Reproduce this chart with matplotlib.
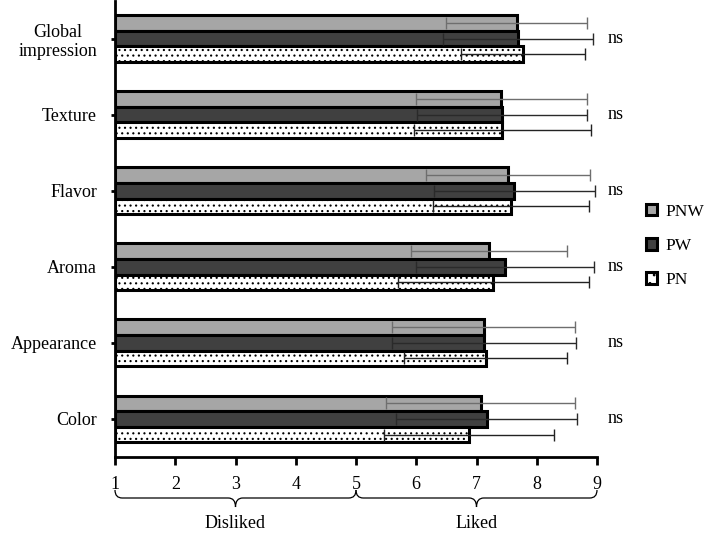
import matplotlib
matplotlib.use('Agg')
import matplotlib.pyplot as plt
import numpy as np
from matplotlib.patches import Patch, PathPatch
from matplotlib.path import Path
from matplotlib.transforms import blended_transform_factory

plt.rcParams['font.family'] = ['Liberation Serif', 'DejaVu Serif']
plt.rcParams['font.size'] = 13
plt.rcParams['hatch.linewidth'] = 0.8

# attributes, top to bottom as shown
categories = ['Global\nimpression', 'Texture', 'Flavor', 'Aroma', 'Appearance', 'Color']
series = ['PNW', 'PW', 'PN']

pnw_mean = [7.67, 7.41, 7.52, 7.21, 7.12, 7.07]
pnw_sd = [1.17, 1.42, 1.36, 1.30, 1.52, 1.57]
pw_mean = [7.69, 7.43, 7.63, 7.47, 7.12, 7.17]
pw_sd = [1.25, 1.41, 1.33, 1.48, 1.53, 1.50]
pn_mean = [7.77, 7.43, 7.57, 7.28, 7.15, 6.88]
pn_sd = [1.03, 1.47, 1.30, 1.59, 1.35, 1.41]

signif = ['ns', 'ns', 'ns', 'ns', 'ns', 'ns']
xticks = [1, 2, 3, 4, 5, 6, 7, 8, 9]
scale_groups = [(1, 5, 'Disliked'), (5, 9, 'Liked')]

fig = plt.figure(figsize=(7.09, 5.35), dpi=100)
ax = fig.add_axes([115 / 709, 1 - 457 / 535, 482 / 709, 457 / 535 - 0.001])

n = len(categories)
ypos = np.arange(n)[::-1]  # first category on top
h = 0.205
styles = [
    dict(color='#a6a6a6', hatch=None, ecol='#6e6e6e'),
    dict(color='#404040', hatch=None, ecol='#2a2a2a'),
    dict(color='white', hatch='...', ecol='#222222'),
]
means = [pnw_mean, pw_mean, pn_mean]
sds = [pnw_sd, pw_sd, pn_sd]
offsets = [h, 0, -h]

for k in range(3):
    st = styles[k]
    base = 1
    ax.barh(ypos + offsets[k], np.array(means[k]) - base, left=base, height=h,
            color=st['color'], edgecolor='black', linewidth=2.2,
            hatch=st['hatch'], zorder=2)
    ax.errorbar(means[k], ypos + offsets[k], xerr=sds[k], fmt='none',
                ecolor=st['ecol'], elinewidth=1.0, capsize=4, capthick=1.0,
                zorder=3)

ax.set_xlim(1, 9)
ax.set_ylim(-0.5, n - 0.5)
ax.set_xticks(xticks)
ax.set_yticks(ypos)
ax.set_yticklabels(categories, multialignment='center')

for s in ['top', 'right']:
    ax.spines[s].set_visible(False)
for s in ['left', 'bottom']:
    ax.spines[s].set_linewidth(2.0)
ax.tick_params(axis='x', direction='out', length=6, width=2, pad=8)
ax.tick_params(axis='y', direction='out', length=3, width=2, pad=10)

for i, s in enumerate(signif):
    ax.text(9.17, ypos[i], s, ha='left', va='center', clip_on=False)

# braces under the scale
tr = blended_transform_factory(ax.transData, fig.transFigure)
y_top = 1 - 490 / 535
y_line = 1 - 498 / 535
y_tip = 1 - 507 / 535
r = 0.12
for x0, x1, lab in scale_groups:
    xm = (x0 + x1) / 2
    verts = [(x0, y_top), (x0, y_line), (x0 + r, y_line),
             (xm - r, y_line), (xm, y_line), (xm, y_tip),
             (xm, y_line), (xm + r, y_line),
             (x1 - r, y_line), (x1, y_line), (x1, y_top)]
    codes = [Path.MOVETO, Path.CURVE3, Path.CURVE3,
             Path.LINETO, Path.CURVE3, Path.CURVE3,
             Path.CURVE3, Path.CURVE3,
             Path.LINETO, Path.CURVE3, Path.CURVE3]
    ax.add_patch(PathPatch(Path(verts, codes), transform=tr, fill=False,
                           edgecolor='black', linewidth=0.9, clip_on=False))
    ax.text(xm, 1 - 523 / 535, lab, transform=tr, ha='center', va='center')

handles = [Patch(facecolor=styles[k]['color'], edgecolor='black', linewidth=2.2,
                 hatch='..' if styles[k]['hatch'] else None) for k in range(3)]
fig.legend(handles, series, loc='center left', bbox_to_anchor=(646 / 709, 1 - 246 / 535),
           frameon=False, fontsize=12.5, handlelength=0.62, handleheight=0.62,
           handletextpad=0.5, labelspacing=1.05, borderpad=0, borderaxespad=0)

fig.savefig('out.png', dpi=100)
